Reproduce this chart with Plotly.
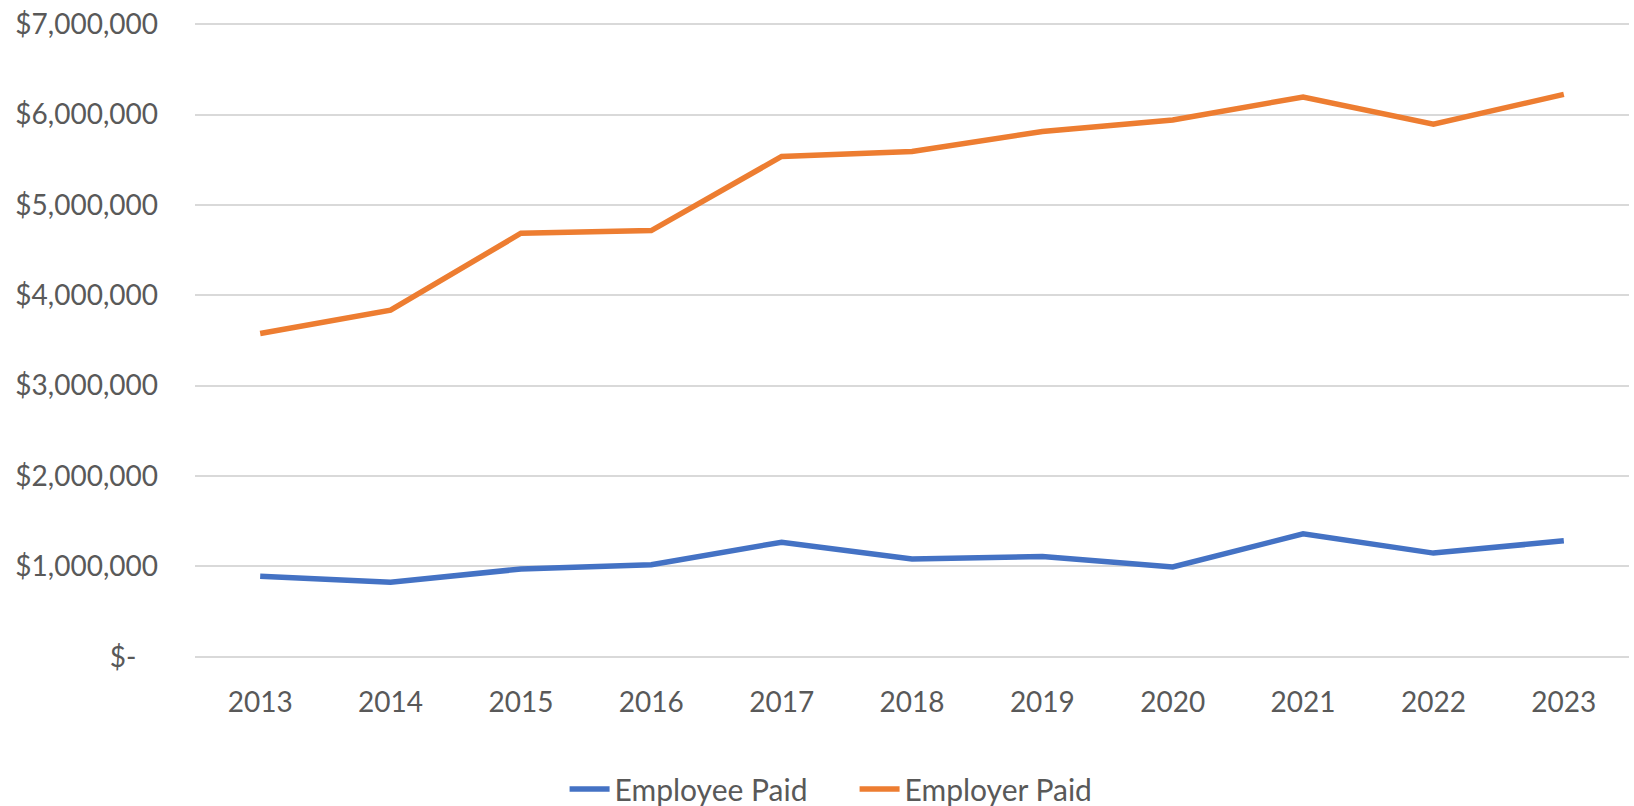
import plotly.graph_objects as go

years = ["2013", "2014", "2015", "2016", "2017", "2018", "2019", "2020", "2021", "2022", "2023"]
employee_paid = [890000, 824000, 971000, 1018000, 1268000, 1081000, 1110000, 993000, 1360000, 1147000, 1283000]
employer_paid = [3577000, 3835000, 4687000, 4717000, 5537000, 5592000, 5813000, 5941000, 6195000, 5893000, 6224000]

tick_vals = [0, 1000000, 2000000, 3000000, 4000000, 5000000, 6000000, 7000000]
tick_text = ["$-\u00a0\u00a0\u00a0", "$1,000,000", "$2,000,000", "$3,000,000", "$4,000,000",
             "$5,000,000", "$6,000,000", "$7,000,000"]

FONT = "Lato"
TXT = "#595959"

fig = go.Figure()
fig.add_trace(go.Scatter(x=years, y=employee_paid, mode="lines", name="Employee Paid",
                         line=dict(color="#4472C4", width=5.5)))
fig.add_trace(go.Scatter(x=years, y=employer_paid, mode="lines", name="Employer Paid",
                         line=dict(color="#ED7D31", width=5.5)))

fig.update_layout(
    width=1634, height=806,
    margin=dict(l=195, r=5, t=22, b=147, autoexpand=False),
    paper_bgcolor="white", plot_bgcolor="white",
    font=dict(family=FONT, size=28, color=TXT),
    showlegend=True,
    legend=dict(orientation="h", xref="container", yref="container",
                x=0.523, xanchor="center", y=0.021, yanchor="middle",
                font=dict(family=FONT, size=30, color=TXT),
                itemwidth=40, entrywidth=235, tracegroupgap=0),
)
fig.update_xaxes(type="category", range=[-0.5, 10.5], showgrid=False, zeroline=False,
                 showline=False, ticks="", ticklabelstandoff=24,
                 tickfont=dict(family=FONT, size=28, color=TXT))
fig.update_yaxes(range=[-25000, 7025000], tickvals=tick_vals, ticktext=tick_text,
                 showgrid=True, gridcolor="#D9D9D9", gridwidth=1.5, zeroline=False,
                 showline=False, ticks="", ticklabelstandoff=36, ticklabeloverflow="allow",
                 tickfont=dict(family=FONT, size=28, color=TXT))

fig.write_html("out.html",
               config={"displayModeBar": False},
               post_script="document.body.style.margin='0';document.body.style.overflow='hidden';")
